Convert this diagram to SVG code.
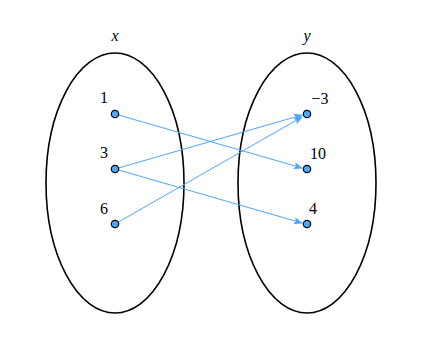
<svg xmlns="http://www.w3.org/2000/svg" width="422" height="351" viewBox="0 0 422 351">
<style>
.set{fill:none;stroke:#000;stroke-width:1.6}
.dot{fill:#4da6ff;stroke:#000;stroke-width:1.2}
.lbl{font-family:'Liberation Serif','DejaVu Serif',serif;font-size:16px;fill:#000}
.it{font-style:italic}
.edge{stroke:#4da6ff;stroke-width:1;fill:none;marker-end:url(#ah)}
</style>
<defs>
<marker id="ah" viewBox="0 0 10 10" refX="9" refY="5" markerWidth="9" markerHeight="9" markerUnits="userSpaceOnUse" orient="auto">
<path d="M0,1 L10,5 L0,9 L2,5 Z" fill="#4da6ff"/>
</marker>
</defs>
<g id="setX">
<ellipse class="set" cx="115" cy="183" rx="69" ry="130"/>
<text class="lbl it" x="115" y="41" text-anchor="middle">x</text>
</g>
<g id="setY">
<ellipse class="set" cx="307" cy="183" rx="69" ry="130"/>
<text class="lbl it" x="307" y="41" text-anchor="middle">y</text>
</g>
<g id="connectors">
<line class="edge" x1="115" y1="114" x2="302" y2="168"/>
<line class="edge" x1="115" y1="169" x2="302" y2="115"/>
<line class="edge" x1="115" y1="169" x2="302" y2="223"/>
<line class="edge" x1="115" y1="224" x2="302" y2="117"/>
</g>
<g id="n1"><circle class="dot" cx="115" cy="114" r="3.7"/><text class="lbl" x="104" y="103" text-anchor="middle">1</text></g>
<g id="n3"><circle class="dot" cx="115" cy="169" r="3.7"/><text class="lbl" x="104" y="158" text-anchor="middle">3</text></g>
<g id="n6"><circle class="dot" cx="115" cy="224" r="3.7"/><text class="lbl" x="104" y="214" text-anchor="middle">6</text></g>
<g id="nm3"><circle class="dot" cx="307" cy="114" r="3.7"/><text class="lbl" x="320" y="104" text-anchor="middle">−3</text></g>
<g id="n10"><circle class="dot" cx="307" cy="169" r="3.7"/><text class="lbl" x="318" y="159" text-anchor="middle">10</text></g>
<g id="n4"><circle class="dot" cx="307" cy="224" r="3.7"/><text class="lbl" x="313" y="214" text-anchor="middle">4</text></g>
</svg>
